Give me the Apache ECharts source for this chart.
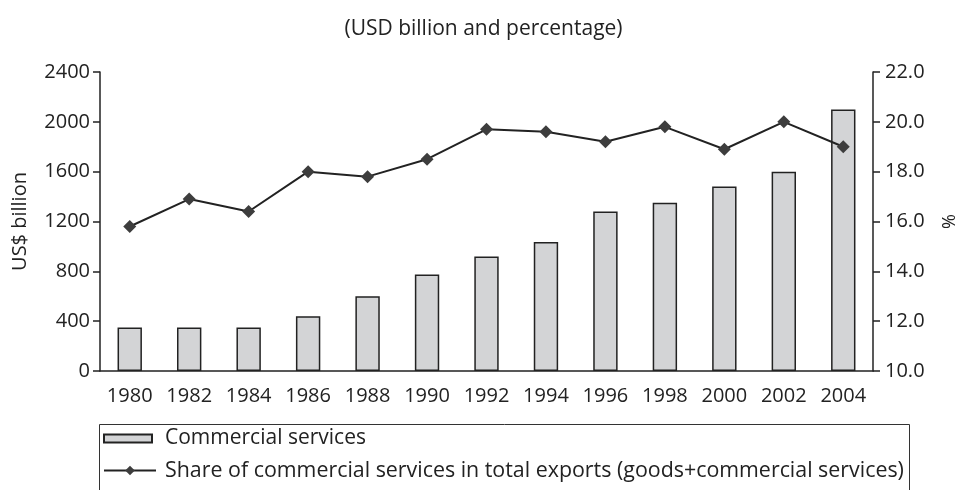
<!DOCTYPE html>
<html lang="en">
<head>
    <meta charset="UTF-8">
    <title>Commercial services</title>
    <script src="https://cdn.jsdelivr.net/npm/echarts@6/dist/echarts.min.js"></script>
    <style>
        html, body { margin: 0; padding: 0; background: #fff; }
        #main { width: 967px; height: 490px; }
    </style>
</head>
<body>
<div id="main"></div>
<script>
    // 数据
    var years = ['1980', '1982', '1984', '1986', '1988', '1990', '1992', '1994', '1996', '1998', '2000', '2002', '2004'];
    var services = [350, 350, 350, 440, 600, 775, 920, 1035, 1280, 1350, 1480, 1600, 2100];
    var share = [15.8, 16.9, 16.4, 18.0, 17.8, 18.5, 19.7, 19.6, 19.2, 19.8, 18.9, 20.0, 19.0];

    var barName = 'Commercial services';
    var lineName = 'Share of commercial services in total exports (goods+commercial services)';
    var font = 'Open Sans';
    var ink = '#222';

    var myChart = echarts.init(document.getElementById('main'));
    var option = {
        backgroundColor: '#fff',
        textStyle: { fontFamily: font, color: ink },
        title: {
            text: '(USD billion and percentage)',
            left: 'center',
            top: 14,
            textStyle: { fontFamily: font, fontSize: 21, fontWeight: 'normal', color: ink }
        },
        grid: { left: 100, right: 79, top: 72, bottom: 119 },
        // 图例外框
        graphic: [{
            type: 'rect',
            left: 97,
            top: 422,
            shape: { width: 810, height: 90 },
            style: { fill: 'none', stroke: '#333', lineWidth: 1 },
            silent: true
        }],
        legend: [
            {
                left: 103,
                top: 428,
                padding: 0,
                itemWidth: 48,
                itemHeight: 8,
                textStyle: { fontFamily: font, fontSize: 21, color: ink, padding: [0, 0, 0, 8] },
                data: [{ name: barName, icon: 'rect' }]
            },
            {
                left: 103,
                top: 460,
                padding: 0,
                itemWidth: 52,
                itemHeight: 12,
                textStyle: { fontFamily: font, fontSize: 21.4, color: ink, padding: [0, 0, 0, 4] },
                data: [{ name: lineName }]
            }
        ],
        xAxis: {
            type: 'category',
            data: years,
            axisLine: { lineStyle: { color: ink, width: 1.5 } },
            axisTick: { interval: 0, length: 6, lineStyle: { color: ink, width: 1.5 } },
            axisLabel: { interval: 0, fontFamily: font, fontSize: 20, color: ink, margin: 15 }
        },
        yAxis: [
            {
                type: 'value',
                min: 0,
                max: 2400,
                interval: 400,
                name: 'US$ billion',
                nameLocation: 'middle',
                nameGap: 70,
                nameTextStyle: { fontFamily: font, fontSize: 20, color: ink },
                splitLine: { show: false },
                axisLine: { show: true, lineStyle: { color: ink, width: 1.5 } },
                axisTick: { show: true, length: 7, lineStyle: { color: ink, width: 1.5 } },
                axisLabel: {
                    fontFamily: font, fontSize: 20, color: ink, margin: 10,
                    formatter: function (v) { return String(v); }
                }
            },
            {
                type: 'value',
                min: 10,
                max: 22,
                interval: 2,
                name: '%',
                nameLocation: 'middle',
                nameGap: 68,
                nameRotate: 90,
                nameTextStyle: { fontFamily: font, fontSize: 18, color: ink },
                splitLine: { show: false },
                axisLine: { show: true, lineStyle: { color: ink, width: 1.5 } },
                axisTick: { show: true, length: 7, lineStyle: { color: ink, width: 1.5 } },
                axisLabel: {
                    fontFamily: font, fontSize: 20, color: ink, margin: 12,
                    formatter: function (v) { return v.toFixed(1); }
                }
            }
        ],
        series: [
            {
                name: barName,
                type: 'bar',
                yAxisIndex: 0,
                data: services,
                barWidth: '41%',
                itemStyle: { color: '#d3d4d6', borderColor: ink, borderWidth: 1.5 }
            },
            {
                name: lineName,
                type: 'line',
                yAxisIndex: 1,
                data: share,
                symbol: 'diamond',
                symbolSize: 13,
                lineStyle: { color: ink, width: 2 },
                itemStyle: { color: '#3d3d3d' }
            }
        ]
    };
    myChart.setOption(option);
</script>
</body>
</html>
